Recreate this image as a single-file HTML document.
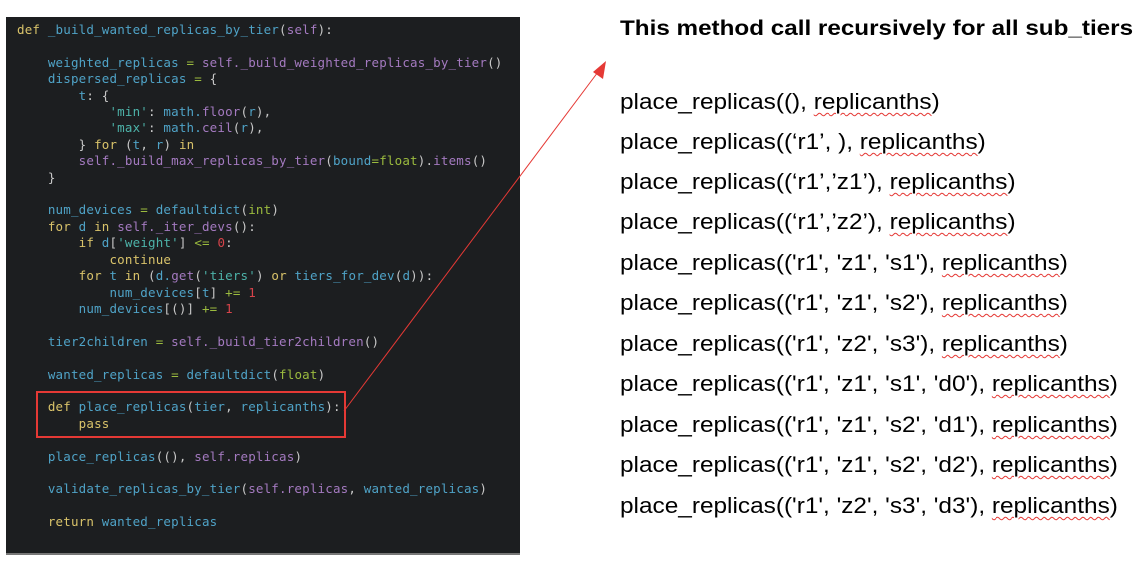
<!DOCTYPE html>
<html><head><meta charset="utf-8"><style>
html,body{margin:0;padding:0;background:#fff;width:1145px;height:561px;overflow:hidden;position:relative}
#code{position:absolute;left:6px;top:17px;width:514px;height:536px;background:#1c1e20;border-bottom:2px solid #777}
#code pre{margin:0;position:absolute;left:11px;top:5px;font-family:"DejaVu Sans Mono","Liberation Mono",monospace;font-size:12.5px;letter-spacing:0.18px;line-height:16.4px;color:#4fa3c7}
.k{color:#d9c36a}.p{color:#a47ac0}.g{color:#9bbb3e}.n{color:#d6434a}.s{color:#4db3a9}.w{color:#c8c8c8}
#box{position:absolute;left:36px;top:391px;width:306px;height:43px;border:2px solid #e53935}
.r{position:absolute;left:620px;font-family:"Liberation Sans",sans-serif;font-size:22px;color:#000;white-space:pre;transform:scaleX(1.108);transform-origin:0 0}
.u{text-decoration:underline wavy #e53935;text-decoration-thickness:1px;text-underline-offset:3px}
</style></head><body>
<div id="code"><pre><span class="k">def</span> <span>_build_wanted_replicas_by_tier</span><span class="w">(</span><span class="p">self</span><span class="w">):</span>

    weighted_replicas <span class="g">=</span> <span class="p">self._build_weighted_replicas_by_tier</span><span class="w">()</span>
    dispersed_replicas <span class="g">=</span> <span class="w">{</span>
        t<span class="w">:</span> <span class="w">{</span>
            <span class="s">'min'</span><span class="w">:</span> math.<span class="p">floor</span><span class="w">(</span>r<span class="w">),</span>
            <span class="s">'max'</span><span class="w">:</span> math.<span class="p">ceil</span><span class="w">(</span>r<span class="w">),</span>
        <span class="w">}</span> <span class="k">for</span> <span class="w">(</span>t<span class="w">,</span> r<span class="w">)</span> <span class="k">in</span>
        <span class="p">self._build_max_replicas_by_tier</span><span class="w">(</span>bound<span class="g">=float</span><span class="w">).</span><span class="p">items</span><span class="w">()</span>
    <span class="w">}</span>

    num_devices <span class="g">=</span> defaultdict<span class="w">(</span><span class="g">int</span><span class="w">)</span>
    <span class="k">for</span> d <span class="k">in</span> <span class="p">self._iter_devs</span><span class="w">():</span>
        <span class="k">if</span> d<span class="w">[</span><span class="s">'weight'</span><span class="w">]</span> <span class="g">&lt;=</span> <span class="n">0</span><span class="w">:</span>
            <span class="k">continue</span>
        <span class="k">for</span> t <span class="k">in</span> <span class="w">(</span>d.<span class="p">get</span><span class="w">(</span><span class="s">'tiers'</span><span class="w">)</span> <span class="k">or</span> tiers_for_dev<span class="w">(</span>d<span class="w">)):</span>
            num_devices<span class="w">[</span>t<span class="w">]</span> <span class="g">+=</span> <span class="n">1</span>
        num_devices<span class="w">[()]</span> <span class="g">+=</span> <span class="n">1</span>

    tier2children <span class="g">=</span> <span class="p">self._build_tier2children</span><span class="w">()</span>

    wanted_replicas <span class="g">=</span> defaultdict<span class="w">(</span><span class="g">float</span><span class="w">)</span>

    <span class="k">def</span> place_replicas<span class="w">(</span>tier<span class="w">,</span> replicanths<span class="w">):</span>
        <span class="k">pass</span>

    place_replicas<span class="w">((),</span> <span class="p">self.replicas</span><span class="w">)</span>

    validate_replicas_by_tier<span class="w">(</span><span class="p">self.replicas</span><span class="w">,</span> wanted_replicas<span class="w">)</span>

    <span class="k">return</span> wanted_replicas</pre></div>
<div id="box"></div>
<svg style="position:absolute;left:0;top:0" width="1145" height="561">
<line x1="344" y1="411" x2="598" y2="72" stroke="#e53935" stroke-width="1"/>
<polygon points="606,61 603,79 593,72" fill="#e53935"/>
</svg>
<div class="r" style="top:16px;font-weight:bold;font-size:21.5px;transform:scaleX(1.127)">This method call recursively for all sub_tiers</div>
<div class="r" style="top:89px">place_replicas((), <span class="u">replicanths</span>)</div>
<div class="r" style="top:129px">place_replicas((‘r1’, ), <span class="u">replicanths</span>)</div>
<div class="r" style="top:169px">place_replicas((‘r1’,’z1’), <span class="u">replicanths</span>)</div>
<div class="r" style="top:209px">place_replicas((‘r1’,’z2’), <span class="u">replicanths</span>)</div>
<div class="r" style="top:250px">place_replicas(('r1', 'z1', 's1'), <span class="u">replicanths</span>)</div>
<div class="r" style="top:290px">place_replicas(('r1', 'z1', 's2'), <span class="u">replicanths</span>)</div>
<div class="r" style="top:331px">place_replicas(('r1', 'z2', 's3'), <span class="u">replicanths</span>)</div>
<div class="r" style="top:371px">place_replicas(('r1', 'z1', 's1', 'd0'), <span class="u">replicanths</span>)</div>
<div class="r" style="top:412px">place_replicas(('r1', 'z1', 's2', 'd1'), <span class="u">replicanths</span>)</div>
<div class="r" style="top:452px">place_replicas(('r1', 'z1', 's2', 'd2'), <span class="u">replicanths</span>)</div>
<div class="r" style="top:493px">place_replicas(('r1', 'z2', 's3', 'd3'), <span class="u">replicanths</span>)</div>
</body></html>
